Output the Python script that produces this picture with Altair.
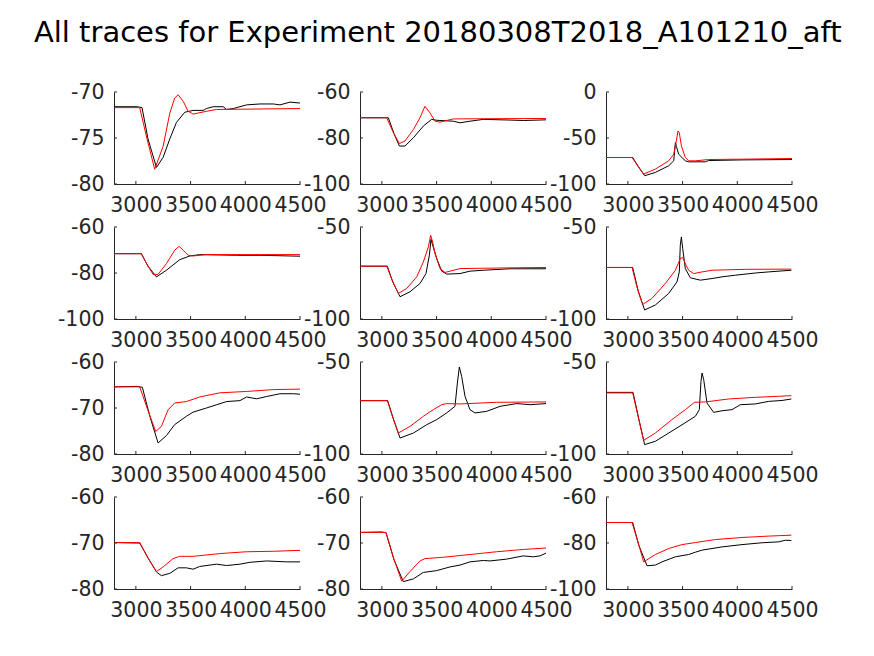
import altair as alt
import pandas as pd

TITLE = "All traces for Experiment 20180308T2018_A101210_aft"
X_DOMAIN = [2800, 4500]
X_TICKS = [3000, 3500, 4000, 4500]

Y_DOMAINS = [[-80, -70], [-100, -60], [-100, 0],
             [-100, -60], [-100, -50], [-100, -50],
             [-80, -60], [-100, -50], [-100, -50],
             [-80, -60], [-80, -60], [-100, -60]]
Y_TICKS = [[-80, -75, -70], [-100, -80, -60], [-100, -50, 0],
           [-100, -80, -60], [-100, -50], [-100, -50],
           [-80, -70, -60], [-100, -50], [-100, -50],
           [-80, -70, -60], [-80, -70, -60], [-100, -80, -60]]

# ---- panel 1
p1_black_x = [2800, 3014, 3056, 3111, 3188, 3249, 3310, 3371, 3447, 3523, 3615, 3645, 3706, 3798, 3829, 3890, 4012, 4134, 4256, 4317, 4408, 4500]
p1_black_y = [-71.6, -71.6, -71.7, -75.1, -78.2, -77.1, -75.1, -73.3, -72.2, -72.0, -72.0, -71.8, -71.6, -71.6, -71.9, -71.8, -71.4, -71.3, -71.3, -71.4, -71.1, -71.2]
p1_red_x = [2800, 3035, 3102, 3172, 3249, 3310, 3355, 3386, 3432, 3478, 3523, 3645, 3737, 4500]
p1_red_y = [-71.7, -71.7, -75.1, -78.4, -75.9, -72.3, -70.65, -70.3, -71.0, -72.1, -72.4, -72.1, -71.9, -71.8]
# ---- panel 2
p2_black_x = [2800, 3059, 3110, 3160, 3211, 3288, 3379, 3455, 3501, 3653, 3714, 3805, 3927, 4171, 4293, 4500]
p2_black_y = [-71.2, -71.2, -78.0, -83.5, -83.5, -79.9, -74.8, -71.9, -72.3, -72.7, -73.4, -72.7, -71.9, -72.2, -72.4, -72.1]
p2_red_x = [2800, 3044, 3105, 3160, 3211, 3288, 3348, 3394, 3440, 3486, 3531, 3653, 4500]
p2_red_y = [-71.2, -71.2, -77.7, -82.4, -81.3, -76.3, -71.2, -66.2, -69.1, -72.7, -73.1, -71.7, -71.5]
# ---- panel 3
p3_black_x = [2800, 3044, 3095, 3153, 3251, 3373, 3419, 3434, 3443, 3464, 3525, 3556, 3708, 3738, 4043, 4500]
p3_black_y = [-71.2, -71.2, -81.0, -91.0, -87.4, -80.2, -74.8, -55.0, -59.0, -67.6, -74.8, -75.9, -75.9, -74.5, -73.8, -73.4]
p3_red_x = [2800, 3038, 3090, 3144, 3251, 3373, 3419, 3440, 3458, 3470, 3489, 3525, 3556, 3617, 3738, 4043, 4500]
p3_red_y = [-71.2, -71.2, -80.0, -89.2, -83.8, -74.8, -67.6, -55.0, -42.4, -44.2, -58.6, -71.2, -74.8, -74.8, -73.4, -73.0, -72.3]
# ---- panel 4
p4_black_x = [2800, 3050, 3110, 3188, 3279, 3401, 3493, 3584, 3920, 4134, 4408, 4500]
p4_black_y = [-71.6, -71.6, -77.0, -81.7, -78.8, -74.2, -72.6, -72.0, -72.3, -72.3, -72.6, -72.7]
p4_red_x = [2800, 3050, 3105, 3157, 3203, 3279, 3355, 3395, 3432, 3478, 3523, 3645, 4500]
p4_red_y = [-71.6, -71.6, -76.5, -80.6, -80.6, -75.9, -70.1, -68.4, -70.1, -72.3, -72.6, -72.0, -72.0]
# ---- panel 5
p5_black_x = [2800, 3050, 3100, 3166, 3257, 3348, 3403, 3434, 3449, 3464, 3501, 3547, 3592, 3714, 3805, 3927, 4171, 4500]
p5_black_y = [-71.3, -71.3, -80.0, -87.9, -85.2, -80.7, -75.3, -65.3, -56.7, -59.9, -67.1, -74.0, -75.6, -75.3, -74.0, -73.5, -72.7, -72.7]
p5_red_x = [2800, 3044, 3095, 3150, 3227, 3318, 3379, 3425, 3446, 3464, 3486, 3531, 3577, 3714, 4171, 4500]
p5_red_y = [-71.3, -71.3, -79.0, -86.1, -83.4, -77.1, -69.0, -60.8, -54.5, -58.2, -64.4, -72.6, -74.7, -72.6, -72.2, -72.0]
# ---- panel 6
p6_black_x = [2800, 3044, 3095, 3153, 3251, 3373, 3449, 3470, 3479, 3489, 3501, 3525, 3571, 3662, 3769, 3860, 3982, 4165, 4287, 4494]
p6_black_y = [-72.0, -72.0, -85.0, -95.1, -92.4, -86.1, -79.8, -74.4, -59.9, -55.4, -61.7, -72.6, -77.6, -78.9, -78.0, -77.1, -76.2, -75.0, -74.4, -73.5]
p6_red_x = [2800, 3038, 3085, 3135, 3220, 3342, 3434, 3479, 3501, 3531, 3556, 3601, 3678, 3769, 4074, 4494]
p6_red_y = [-72.0, -72.0, -83.0, -92.1, -88.8, -80.7, -73.5, -67.1, -66.6, -70.7, -73.5, -75.3, -74.4, -73.5, -73.0, -72.9]
# ---- panel 7
p7_black_x = [2800, 3011, 3059, 3130, 3203, 3279, 3355, 3462, 3523, 3645, 3737, 3829, 3951, 4012, 4103, 4195, 4317, 4439, 4500]
p7_black_y = [-65.4, -65.3, -65.5, -72.0, -77.6, -76.0, -73.6, -71.8, -70.9, -70.0, -69.3, -68.6, -68.4, -67.6, -68.0, -67.5, -66.9, -66.9, -67.0]
p7_red_x = [2800, 3035, 3110, 3181, 3233, 3294, 3355, 3462, 3584, 3767, 4012, 4256, 4500]
p7_red_y = [-65.4, -65.4, -70.5, -75.1, -74.0, -70.4, -68.9, -68.6, -67.6, -66.7, -66.4, -66.0, -65.9]
# ---- panel 8
p8_black_x = [2800, 3053, 3105, 3166, 3288, 3409, 3501, 3592, 3668, 3690, 3708, 3729, 3760, 3805, 3851, 3958, 4080, 4232, 4354, 4500]
p8_black_y = [-71.0, -71.0, -81.0, -91.3, -88.6, -84.1, -81.3, -77.7, -74.1, -61.4, -52.7, -57.8, -68.7, -75.9, -77.7, -76.8, -74.1, -72.6, -73.2, -72.6]
p8_red_x = [2800, 3050, 3100, 3150, 3257, 3379, 3470, 3547, 3592, 3714, 4049, 4500]
p8_red_y = [-71.0, -71.0, -80.0, -88.6, -85.0, -79.5, -75.9, -73.2, -72.6, -72.8, -71.9, -71.7]
# ---- panel 9
p9_black_x = [2800, 3047, 3100, 3153, 3251, 3373, 3495, 3617, 3653, 3668, 3678, 3693, 3723, 3784, 3860, 3952, 4028, 4165, 4287, 4409, 4494]
p9_black_y = [-66.5, -66.5, -81.0, -94.9, -93.1, -88.6, -84.1, -79.5, -75.9, -60.5, -56.0, -59.6, -72.3, -77.4, -76.5, -75.9, -73.2, -72.8, -71.4, -70.9, -70.1]
p9_red_x = [2800, 3044, 3095, 3144, 3251, 3403, 3525, 3610, 3708, 3921, 4165, 4494]
p9_red_y = [-66.8, -66.8, -80.0, -92.6, -88.6, -81.3, -75.9, -71.9, -71.7, -70.1, -69.2, -68.3]
# ---- panel 10
p10_black_x = [2800, 3004, 3035, 3110, 3188, 3233, 3310, 3386, 3462, 3523, 3584, 3737, 3829, 3951, 4042, 4195, 4378, 4500]
p10_black_y = [-69.9, -70.0, -70.0, -73.2, -76.3, -77.1, -76.6, -75.4, -75.4, -75.7, -75.1, -74.6, -74.9, -74.6, -74.2, -73.9, -74.1, -74.1]
p10_red_x = [2800, 3035, 3110, 3188, 3249, 3340, 3401, 3523, 3767, 4012, 4256, 4500]
p10_red_y = [-69.9, -69.9, -73.2, -76.2, -75.2, -73.4, -72.9, -72.9, -72.3, -71.9, -71.8, -71.6]
# ---- panel 11
p11_black_x = [2800, 2998, 3038, 3110, 3196, 3288, 3379, 3501, 3623, 3714, 3805, 3927, 3988, 4141, 4293, 4384, 4445, 4500]
p11_black_y = [-67.7, -67.6, -67.8, -73.6, -78.4, -77.8, -76.4, -76.0, -75.2, -74.8, -74.1, -73.8, -73.9, -73.5, -72.8, -73.0, -72.8, -72.2]
p11_red_x = [2800, 3038, 3110, 3181, 3257, 3348, 3394, 3562, 3805, 4049, 4293, 4500]
p11_red_y = [-67.7, -67.7, -73.5, -78.3, -76.2, -73.9, -73.4, -73.1, -72.5, -71.9, -71.4, -71.1]
# ---- panel 12
p12_black_x = [2800, 3044, 3100, 3175, 3251, 3312, 3434, 3556, 3617, 3678, 3860, 4043, 4226, 4378, 4439, 4494]
p12_black_y = [-71.1, -71.1, -81.0, -89.9, -89.6, -88.2, -86.0, -85.0, -84.0, -83.1, -81.7, -80.7, -79.9, -79.5, -78.8, -78.9]
p12_red_x = [2800, 3038, 3095, 3144, 3251, 3373, 3495, 3617, 3799, 4043, 4287, 4494]
p12_red_y = [-71.1, -71.1, -80.0, -88.2, -85.0, -82.4, -80.7, -79.8, -78.5, -77.6, -77.0, -76.6]

TRACES = [
    (p1_black_x, p1_black_y, p1_red_x, p1_red_y),
    (p2_black_x, p2_black_y, p2_red_x, p2_red_y),
    (p3_black_x, p3_black_y, p3_red_x, p3_red_y),
    (p4_black_x, p4_black_y, p4_red_x, p4_red_y),
    (p5_black_x, p5_black_y, p5_red_x, p5_red_y),
    (p6_black_x, p6_black_y, p6_red_x, p6_red_y),
    (p7_black_x, p7_black_y, p7_red_x, p7_red_y),
    (p8_black_x, p8_black_y, p8_red_x, p8_red_y),
    (p9_black_x, p9_black_y, p9_red_x, p9_red_y),
    (p10_black_x, p10_black_y, p10_red_x, p10_red_y),
    (p11_black_x, p11_black_y, p11_red_x, p11_red_y),
    (p12_black_x, p12_black_y, p12_red_x, p12_red_y),
]

W, H = 186, 92
FONT = "DejaVu Sans"
AXC = "#262626"
TICK_LEN = 3
LABEL_EXPR = "datum.value < 0 ? '-' + format(-datum.value, 'd') : format(datum.value, 'd')"


def panel(i):
    bx, by, rx, ry = TRACES[i]
    xs = alt.Scale(domain=X_DOMAIN, nice=False, zero=False)
    ys = alt.Scale(domain=Y_DOMAINS[i], nice=False, zero=False)
    xaxis = alt.Axis(values=X_TICKS, ticks=False, grid=False, labelOverlap=False,
                     labelFlush=False, labelPadding=11, domainColor=AXC, domainWidth=1,
                     labelColor=AXC, labelFontSize=20.5, labelFont=FONT,
                     labelExpr=LABEL_EXPR, title=None)
    yaxis = alt.Axis(values=Y_TICKS[i], ticks=False, grid=False, labelOverlap=False,
                     labelFlush=False, labelPadding=10, domainColor=AXC, domainWidth=1,
                     labelColor=AXC, labelFontSize=20.5, labelFont=FONT,
                     labelExpr=LABEL_EXPR, title=None)
    X = lambda: alt.X("x:Q", scale=xs, axis=xaxis)
    Y = lambda: alt.Y("y:Q", scale=ys, axis=yaxis)
    black = alt.Chart(pd.DataFrame({"x": bx, "y": by})).mark_line(
        color="#000000", strokeWidth=1).encode(x=X(), y=Y())
    red = alt.Chart(pd.DataFrame({"x": rx, "y": ry})).mark_line(
        color="#ff0000", strokeWidth=1).encode(x=X(), y=Y())
    xt = alt.Chart(pd.DataFrame({"x": X_TICKS})).mark_rule(
        color=AXC, strokeWidth=1).encode(x=X(), y=alt.value(H), y2=alt.value(H - TICK_LEN))
    yt = alt.Chart(pd.DataFrame({"y": Y_TICKS[i]})).mark_rule(
        color=AXC, strokeWidth=1).encode(y=Y(), x=alt.value(0), x2=alt.value(TICK_LEN))
    return alt.layer(black, red, xt, yt).properties(width=W, height=H)


chart = alt.concat(*[panel(i) for i in range(12)], columns=3,
                   spacing={"row": 43, "column": 60}, bounds="flush").properties(
    title=alt.TitleParams(text=TITLE, fontSize=29, font=FONT, fontWeight="normal",
                          color="#000000", anchor="middle", offset=34),
    padding={"left": 33, "top": 19, "right": 5, "bottom": 5},
    background="#ffffff",
).configure_view(strokeWidth=0)

chart.save("out.html", embed_options={"renderer": "svg", "actions": False})
